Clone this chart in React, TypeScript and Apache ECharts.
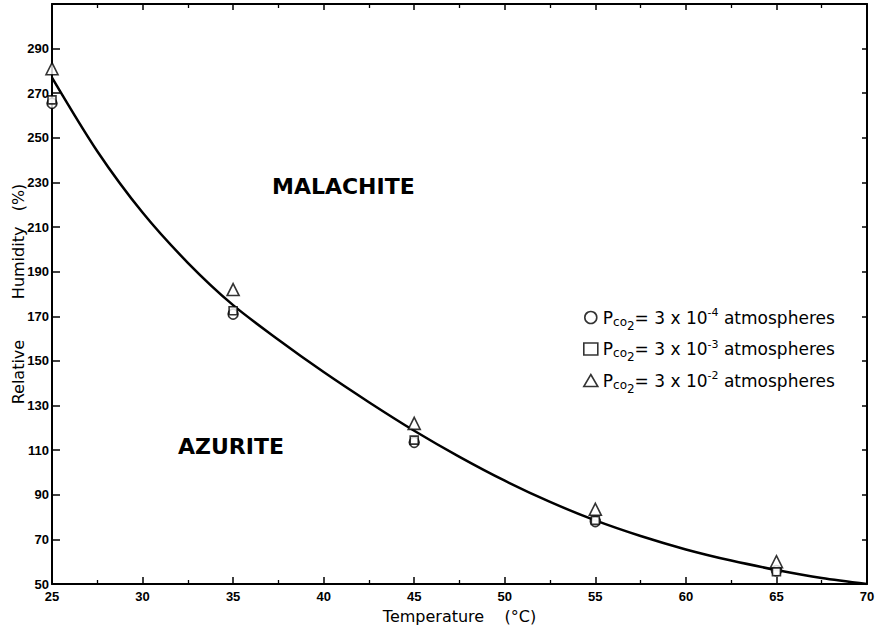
import React, { useEffect, useRef } from "react";
import * as echarts from "echarts";

// Curve separating malachite / azurite fields
const curveTemps = [25, 27.5, 30, 32.5, 35, 37.5, 40, 42.5, 45, 47.5, 50, 52.5, 55, 57.5, 60, 62.5, 65, 67.5, 70];
const curveHumidity = [277, 244, 216.5, 194, 175, 159.5, 145, 131.5, 118.7, 107, 96.3, 86.8, 78.5, 71.5, 65.5, 60.5, 56.3, 52.7, 50];

// Experimental points
const sampleTemps = [25, 35, 45, 55, 65];
const humidityP4 = [265.5, 171, 113.5, 78, 56];
const humidityP3 = [267, 172.5, 114.5, 78.5, 55.5];
const humidityP2 = [281, 182, 122, 83.5, 60];

const exponents = ["-4", "-3", "-2"];
const seriesNames = exponents.map((e) => `Pco2 = 3 x 10${e} atmospheres`);
const fieldLabels = ["MALACHITE", "AZURITE"];

const FONT = "DejaVu Sans";
const NUMFONT = "Liberation Sans";

export default function App() {
  const ref = useRef<HTMLDivElement>(null);
  useEffect(() => {
    if (!ref.current) return;
    const chart = echarts.init(ref.current, null, { renderer: "svg" });
    const pair = (xs: number[], ys: number[]) => xs.map((x, i) => [x, ys[i]]);
    const axisLine = { show: true, onZero: false, lineStyle: { color: "#000", width: 2 } };
    const markerStyle = { color: "#fff", borderColor: "#000", borderWidth: 1.6 };
    chart.setOption({
      animation: false,
      backgroundColor: "#fff",
      grid: { left: 52, right: 8, top: 4, bottom: 45, outerBoundsMode: "none", containLabel: false },
      xAxis: [
        {
          type: "value",
          min: 25,
          max: 70,
          interval: 5,
          position: "bottom",
          axisLine,
          axisTick: { show: true, inside: true, length: 7, lineStyle: { color: "#000", width: 1.5 } },
          minorTick: { show: true, splitNumber: 2, length: 4, lineStyle: { color: "#000", width: 1.3 } },
          splitLine: { show: false },
          axisLabel: { color: "#000", fontFamily: NUMFONT, fontWeight: "bold", fontSize: 13, margin: 6 },
          name: "Temperature    (°C)",
          nameLocation: "middle",
          nameGap: 24,
          nameMoveOverlap: false,
          nameTextStyle: { color: "#000", fontFamily: FONT, fontSize: 16 },
        },
        {
          type: "value",
          min: 25,
          max: 70,
          interval: 5,
          position: "top",
          axisLine,
          axisTick: { show: true, inside: true, length: 6, lineStyle: { color: "#000", width: 1.5 } },
          minorTick: { show: true, splitNumber: 2, length: 4, lineStyle: { color: "#000", width: 1.3 } },
          splitLine: { show: false },
          axisLabel: { show: false },
        },
      ],
      yAxis: [
        {
          type: "value",
          min: 50,
          max: 310,
          interval: 20,
          position: "left",
          axisLine,
          axisTick: { show: true, inside: true, length: 8, lineStyle: { color: "#000", width: 1.5 } },
          splitLine: { show: false },
          axisLabel: {
            color: "#000",
            fontFamily: NUMFONT,
            fontWeight: "bold",
            fontSize: 13,
            margin: 3,
            formatter: (v: number) => (v >= 310 ? "" : String(v)),
          },
          name: "Relative        Humidity   (%)",
          nameLocation: "middle",
          nameGap: 26,
          nameMoveOverlap: false,
          nameTextStyle: { color: "#000", fontFamily: FONT, fontSize: 16 },
        },
        {
          type: "value",
          min: 50,
          max: 310,
          interval: 20,
          position: "right",
          axisLine,
          axisTick: { show: true, inside: true, length: 5, lineStyle: { color: "#000", width: 1.5 } },
          splitLine: { show: false },
          axisLabel: { show: false },
        },
      ],
      legend: {
        data: seriesNames,
        orient: "vertical",
        left: 578,
        top: 302,
        itemGap: 7,
        itemWidth: 14,
        itemHeight: 12,
        itemStyle: { borderWidth: 1.6 },
        textStyle: {
          color: "#000",
          fontFamily: FONT,
          fontSize: 17,
          rich: {
            co: { fontFamily: FONT, fontSize: 12, padding: [8, 0, 0, 0], color: "#000" },
            two: { fontFamily: FONT, fontSize: 12, padding: [16, 0, 0, 0], color: "#000" },
            sup: { fontFamily: FONT, fontSize: 11, padding: [0, 0, 10, 0], color: "#000" },
            t: { fontFamily: FONT, fontSize: 17, color: "#000" },
          },
        },
        formatter: (name: string) => {
          const i = seriesNames.indexOf(name);
          return `{t|P}{co|co}{two|2}{t|= 3 x 10}{sup|${exponents[i]}}{t| atmospheres}`;
        },
      },
      graphic: [
        {
          type: "text",
          left: 272,
          top: 175,
          style: { text: fieldLabels[0], font: `bold 22px ${FONT}`, fill: "#000" },
        },
        {
          type: "text",
          left: 178,
          top: 435,
          style: { text: fieldLabels[1], font: `bold 22px ${FONT}`, fill: "#000" },
        },
      ],
      series: [
        {
          type: "line",
          name: "boundary",
          data: pair(curveTemps, curveHumidity),
          smooth: 0.3,
          symbol: "none",
          lineStyle: { color: "#000", width: 2.5 },
          z: 2,
        },
        {
          type: "scatter",
          name: seriesNames[0],
          data: pair(sampleTemps, humidityP4),
          symbol: "circle",
          symbolSize: 10,
          itemStyle: markerStyle,
          z: 3,
        },
        {
          type: "scatter",
          name: seriesNames[1],
          data: pair(sampleTemps, humidityP3),
          symbol: "rect",
          symbolSize: 8,
          itemStyle: markerStyle,
          z: 4,
        },
        {
          type: "scatter",
          name: seriesNames[2],
          data: pair(sampleTemps, humidityP2),
          symbol: "triangle",
          symbolSize: 12,
          itemStyle: markerStyle,
          z: 4,
        },
      ],
    });
    return () => chart.dispose();
  }, []);
  return (
    <div
      ref={ref}
      style={{ position: "absolute", left: 0, top: 0, width: 875, height: 629, background: "#fff" }}
    />
  );
}
